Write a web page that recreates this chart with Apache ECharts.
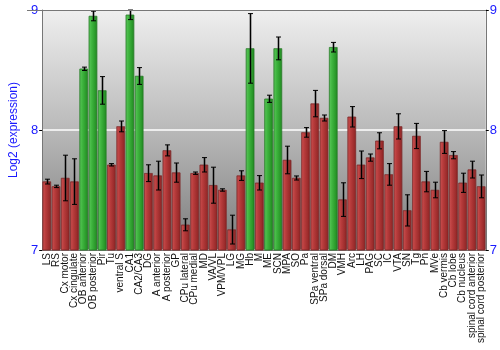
<!DOCTYPE html>
<html>
<head>
<meta charset="utf-8">
<script src="https://cdn.jsdelivr.net/npm/echarts@6/dist/echarts.min.js"></script>
<style>
  html, body { margin: 0; padding: 0; background: #ffffff; }
  #chart { width: 500px; height: 350px; }
</style>
</head>
<body>
<div id="chart"></div>
<script>
// Brain regions, in plotting order
const regions = [
  'LS', 'RS', 'Cx motor', 'Cx cingulate', 'OB anterior', 'OB posterior', 'Pir', 'Tu',
  'ventral S', 'CA1', 'CA2/CA3', 'DG', 'A anterior', 'A posterior', 'GP', 'CPu lateral',
  'CPu medial', 'MD', 'VA/VL', 'VPM/VPL', 'LG', 'MG', 'Hb', 'M', 'ME', 'SCN', 'MPA', 'SO',
  'Pa', 'SPa ventral', 'SPa dorsal', 'DM', 'VMH', 'Arc', 'LH', 'PAG', 'SC', 'IC', 'VTA',
  'SN', 'Tg', 'Pn', 'MVe', 'Cb vermis', 'Cb lobe', 'Cb nucleus',
  'spinal cord anterior', 'spinal cord posterior'
];

// Mean log2 expression per region
const meanExpr = [
  7.57, 7.53, 7.60, 7.57, 8.51, 8.95, 8.33, 7.71,
  8.03, 8.96, 8.45, 7.64, 7.62, 7.83, 7.645, 7.21,
  7.64, 7.71, 7.54, 7.50, 7.17, 7.62, 8.68, 7.56, 8.26, 8.68, 7.75, 7.60,
  7.98, 8.22, 8.10, 8.69, 7.42, 8.11, 7.71, 7.77, 7.91, 7.63, 8.03,
  7.33, 7.95, 7.57, 7.50, 7.90, 7.79, 7.56,
  7.67, 7.53
];

// Standard error of each mean
const stdErr = [
  0.02, 0.01, 0.19, 0.19, 0.014, 0.04, 0.115, 0.01,
  0.045, 0.04, 0.07, 0.07, 0.12, 0.046, 0.08, 0.05,
  0.01, 0.06, 0.15, 0.01, 0.12, 0.04, 0.29, 0.06, 0.03, 0.095, 0.115, 0.017,
  0.04, 0.11, 0.025, 0.04, 0.14, 0.085, 0.115, 0.03, 0.067, 0.09, 0.105,
  0.13, 0.105, 0.085, 0.065, 0.095, 0.03, 0.08,
  0.07, 0.095
];

// Regions with enriched expression
const enriched = ['OB anterior', 'OB posterior', 'Pir', 'CA1', 'CA2/CA3', 'Hb', 'ME', 'SCN', 'DM'];

// Axis range and ticks
const yMin = 7, yMax = 9, yStep = 1;

const greenFill = new echarts.graphic.LinearGradient(0, 0, 1, 0, [
  { offset: 0, color: '#5cc95c' },
  { offset: 0.35, color: '#3fb53f' },
  { offset: 1, color: '#1f8a1f' }
]);
const redFill = new echarts.graphic.LinearGradient(0, 0, 1, 0, [
  { offset: 0, color: '#cc5252' },
  { offset: 0.35, color: '#b83c3c' },
  { offset: 1, color: '#8e2424' }
]);

const barData = meanExpr.map((v, i) => ({
  value: v,
  itemStyle: {
    color: enriched.includes(regions[i]) ? greenFill : redFill,
    borderColor: enriched.includes(regions[i]) ? '#2a7d2a' : '#7e2a2a',
    borderWidth: 0.5
  }
}));

const errData = meanExpr.map((v, i) => [i, v - stdErr[i], v + stdErr[i]]);

const blue = '#1a1aff';
const axisFont = 'Liberation Sans, Arial, sans-serif';

const chart = echarts.init(document.getElementById('chart'), null, { renderer: 'canvas' });

chart.setOption({
  animation: false,
  grid: {
    left: 27, right: 14, top: 10, bottom: 100,
    show: true,
    borderWidth: 0,
    backgroundColor: new echarts.graphic.LinearGradient(0, 0, 0, 1, [
      { offset: 0, color: '#efefef' },
      { offset: 0.5, color: '#b9b9b9' },
      { offset: 1, color: '#7c7c7c' }
    ])
  },
  xAxis: {
    type: 'category',
    data: regions,
    axisLine: { show: true, lineStyle: { color: '#777777' } },
    axisTick: { show: false },
    axisLabel: {
      interval: 0,
      rotate: 90,
      margin: 3,
      color: '#111111',
      fontSize: 10,
      fontFamily: axisFont
    }
  },
  yAxis: [
    {
      type: 'value',
      min: yMin, max: yMax, interval: yStep,
      position: 'left',
      name: 'Log2 (expression)',
      nameLocation: 'middle',
      nameGap: 12,
      nameTextStyle: { color: blue, fontSize: 12, fontFamily: axisFont },
      axisLine: { show: true, lineStyle: { color: '#777777' } },
      axisTick: { show: true, length: 3, lineStyle: { color: '#000000' } },
      axisLabel: { color: blue, fontSize: 13, fontFamily: axisFont, margin: 4 },
      splitLine: { show: true, lineStyle: { color: '#ffffff', width: 1.5 } }
    },
    {
      type: 'value',
      min: yMin, max: yMax, interval: yStep,
      position: 'right',
      axisLine: { show: true, lineStyle: { color: '#777777' } },
      axisTick: { show: true, length: 3, lineStyle: { color: '#000000' } },
      axisLabel: { color: blue, fontSize: 13, fontFamily: axisFont, margin: 4 },
      splitLine: { show: false }
    }
  ],
  series: [
    {
      type: 'bar',
      data: barData,
      barCategoryGap: '10%',
      z: 2
    },
    {
      type: 'custom',
      z: 3,
      data: errData,
      renderItem: function (params, api) {
        const x = api.value(0);
        const lo = api.coord([x, api.value(1)]);
        const hi = api.coord([x, api.value(2)]);
        const cx = Math.round(lo[0]) + 0.5;
        const cap = 2.5;
        const shadow = { stroke: 'rgba(40,40,40,0.45)', lineWidth: 2.5 };
        const ink = { stroke: '#000000', lineWidth: 1 };
        return {
          type: 'group',
          children: [
            { type: 'line', shape: { x1: cx, y1: hi[1], x2: cx, y2: lo[1] }, style: shadow },
            { type: 'line', shape: { x1: cx, y1: hi[1], x2: cx, y2: lo[1] }, style: ink },
            { type: 'line', shape: { x1: cx - cap, y1: hi[1], x2: cx + cap, y2: hi[1] }, style: ink },
            { type: 'line', shape: { x1: cx - cap, y1: lo[1], x2: cx + cap, y2: lo[1] }, style: ink }
          ]
        };
      }
    }
  ]
});

// Gray frame line along the top of the plot
chart.setOption({
  graphic: [{
    type: 'line',
    shape: { x1: 27, y1: 10.5, x2: 486, y2: 10.5 },
    style: { stroke: '#777777', lineWidth: 1 },
    z: 10
  }]
});
</script>
</body>
</html>
